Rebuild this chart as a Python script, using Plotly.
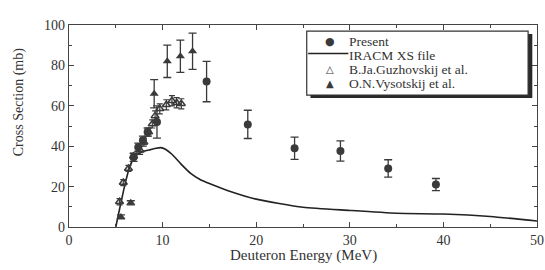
import plotly.graph_objects as go

# Present data (filled circles)
present_x = [6.9, 7.4, 7.9, 8.4, 9.4, 14.7, 19.1, 24.1, 29.0, 34.1, 39.2]
present_y = [34.5, 39.5, 43.0, 47.0, 52.0, 72.0, 50.8, 39.0, 37.6, 29.0, 21.0]
present_err = [2.0, 2.0, 2.0, 2.0, 8.0, 10.0, 7.0, 5.5, 5.0, 4.3, 3.0]

# IRACM XS file (line)
iracm_x = [5.0, 5.5, 6.0, 6.5, 7.0, 7.5, 8.0, 8.7, 9.3, 9.8, 10.3, 11.0, 12.0, 13.0,
           14.0, 15.0, 17.0, 20.0, 25.0, 30.0, 35.0, 40.0, 45.0, 50.0]
iracm_y = [0.0, 11.0, 21.5, 30.0, 34.5, 36.5, 37.5, 38.3, 39.0, 39.3, 38.5, 36.0, 31.0,
           26.5, 23.5, 21.5, 18.0, 13.8, 9.8, 8.2, 6.8, 6.4, 5.2, 3.0]

# B.Ja.Guzhovskij et al. (open triangles)
guz_x = [5.4, 5.8, 6.35, 6.9, 7.6, 8.0, 8.5, 8.9, 9.2, 9.7, 10.4, 11.0, 11.5, 12.0]
guz_y = [12.5, 22.0, 29.0, 35.0, 38.0, 42.0, 47.0, 51.0, 55.0, 58.5, 60.5, 62.5, 61.5, 61.0]
guz_err = [1.5, 1.5, 1.5, 1.5, 2.0, 2.0, 2.0, 2.0, 2.5, 2.5, 2.5, 2.5, 2.5, 2.5]

# O.N.Vysotskij et al. (filled triangles)
vys_x = [5.55, 6.6, 9.1, 10.5, 11.9, 13.2]
vys_y = [5.0, 12.0, 66.0, 82.0, 84.5, 87.0]
vys_err = [1.0, 1.0, 7.0, 8.0, 8.0, 9.0]

x_ticks = [0, 10, 20, 30, 40, 50]
y_ticks = [0, 20, 40, 60, 80, 100]

x_title = "Deuteron Energy (MeV)"
y_title = "Cross Section (mb)"

legend_labels = ["Present", "IRACM XS file", "B.Ja.Guzhovskij et al.", "O.N.Vysotskij et al."]
legend_glyphs = ["●", None, "△", "▲"]

ink = "#3a3a3a"
font = "Liberation Serif, Times New Roman, serif"

fig = go.Figure()

fig.add_trace(go.Scatter(
    x=iracm_x, y=iracm_y, mode="lines", name=legend_labels[1],
    line=dict(color="#222222", width=1.6, shape="spline", smoothing=0.6),
))
fig.add_trace(go.Scatter(
    x=guz_x, y=guz_y, mode="markers", name=legend_labels[2],
    marker=dict(symbol="triangle-up-open", size=7, color=ink, line=dict(width=1.5, color=ink)),
    error_y=dict(type="data", array=guz_err, color=ink, thickness=1.2, width=3),
))
fig.add_trace(go.Scatter(
    x=present_x, y=present_y, mode="markers", name=legend_labels[0],
    marker=dict(symbol="circle", size=8, color=ink),
    error_y=dict(type="data", array=present_err, color=ink, thickness=1.3, width=4),
))
fig.add_trace(go.Scatter(
    x=vys_x, y=vys_y, mode="markers", name=legend_labels[3],
    marker=dict(symbol="triangle-up", size=8, color=ink),
    error_y=dict(type="data", array=vys_err, color=ink, thickness=1.3, width=4),
))

# hand-drawn legend box with shadow (paper coordinates)
fig.add_shape(type="rect", xref="paper", yref="paper",
              x0=0.516, x1=0.99, y0=0.638, y1=0.955,
              fillcolor="#2a2a2a", line=dict(width=0))
fig.add_shape(type="rect", xref="paper", yref="paper",
              x0=0.508, x1=0.981, y0=0.653, y1=0.970,
              fillcolor="white", line=dict(width=1.2, color="#333333"))

row_y = [0.918, 0.849, 0.780, 0.711]
for label, glyph, yy in zip(legend_labels, legend_glyphs, row_y):
    fig.add_annotation(xref="paper", yref="paper", x=0.596, y=yy, text=label,
                       showarrow=False, xanchor="left", yanchor="middle",
                       font=dict(family=font, size=13.5, color="#333333"),
                       borderpad=0)
    if glyph is None:
        fig.add_shape(type="line", xref="paper", yref="paper",
                      x0=0.511, x1=0.597, y0=yy + 0.01, y1=yy + 0.01,
                      line=dict(color="#222222", width=1.4))
    else:
        fig.add_annotation(xref="paper", yref="paper", x=0.558, y=yy, text=glyph,
                           showarrow=False, xanchor="center", yanchor="middle",
                           borderpad=0,
                           font=dict(family="DejaVu Sans", size=10 if glyph != "●" else 11,
                                     color=ink))

# axis titles
fig.add_annotation(xref="paper", yref="paper", x=0.5, y=-0.14, text=x_title,
                   showarrow=False, xanchor="center", yanchor="middle",
                   font=dict(family=font, size=15, color="#333333"))
fig.add_annotation(xref="paper", yref="paper", x=-0.108, y=0.62, text=y_title,
                   showarrow=False, xanchor="center", yanchor="middle", textangle=-90,
                   font=dict(family=font, size=14, color="#333333"))

fig.update_layout(
    width=545, height=270,
    margin=dict(l=69, r=8, t=25, b=43, autoexpand=False),
    paper_bgcolor="white", plot_bgcolor="white",
    font=dict(family=font, size=13, color="#333333"),
    showlegend=False,
    xaxis=dict(range=[0, 50], tickvals=x_ticks, ticks="inside", ticklen=5,
               tickcolor="#444", showline=True, linecolor="#444", linewidth=1.3,
               mirror="ticks", showgrid=False, zeroline=False, automargin=False,
               minor=dict(dtick=5, ticks="inside", ticklen=3, tickcolor="#444"),
               tickfont=dict(size=14)),
    yaxis=dict(range=[0, 100], tickvals=y_ticks, ticks="inside", ticklen=5,
               tickcolor="#444", showline=True, linecolor="#444", linewidth=1.3,
               mirror="ticks", showgrid=False, zeroline=False, automargin=False,
               minor=dict(dtick=10, ticks="inside", ticklen=3, tickcolor="#444"),
               tickfont=dict(size=14)),
)

fig.write_html("out.html",
               config={"displayModeBar": False},
               post_script="document.body.style.margin='0';document.body.style.overflow='hidden';")
